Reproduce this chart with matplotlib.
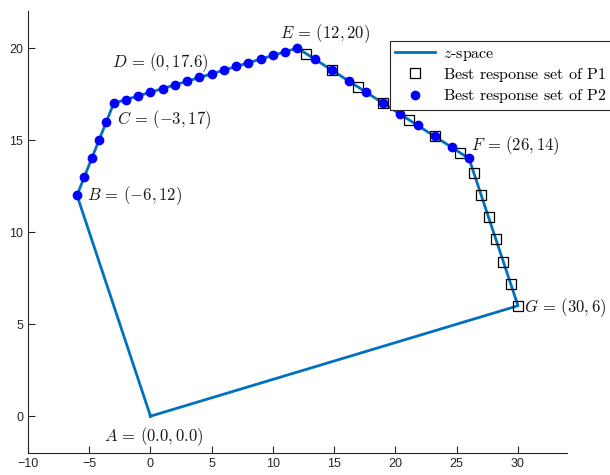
import matplotlib
matplotlib.use("Agg")
import matplotlib.pyplot as plt

plt.rcParams["mathtext.fontset"] = "cm"
plt.rcParams["font.family"] = ["Liberation Sans", "DejaVu Sans"]

# Vertices of the feasible z-space (closed polygon A-B-C-D-E-F-G-A)
vertex_names = ["A", "B", "C", "D", "E", "F", "G"]
vertex_x = [0, -6, -3, 0, 12, 26, 30]
vertex_y = [0, 12, 17, 17.6, 20, 14, 6]
vertex_text = [r"(0.0,0.0)", r"(-6,12)", r"(-3,17)", r"(0,17.6)",
               r"(12,20)", r"(26,14)", r"(30,6)"]

# Best response set of P1 (squares)
p1_x = [12.7, 14.8, 16.9, 19.0, 21.1, 23.2, 25.3,
        26.4, 27.0, 27.6, 28.2, 28.8, 29.4, 30.0]
p1_y = [19.7, 18.8, 17.9, 17.0, 16.1, 15.2, 14.3,
        13.2, 12.0, 10.8, 9.6, 8.4, 7.2, 6.0]

# Best response set of P2 (dots)
p2_x = [-6, -5.4, -4.8, -4.2, -3.6, -3,
        -2, -1, 0, 1, 2, 3, 4, 5, 6, 7, 8, 9, 10, 11, 12,
        13.4, 14.8, 16.2, 17.6, 19.0, 20.4, 21.8, 23.2, 24.6, 26.0]
p2_y = [12, 13, 14, 15, 16, 17,
        17.2, 17.4, 17.6, 17.8, 18.0, 18.2, 18.4, 18.6, 18.8, 19.0,
        19.2, 19.4, 19.6, 19.8, 20.0,
        19.4, 18.8, 18.2, 17.6, 17.0, 16.4, 15.8, 15.2, 14.6, 14.0]

x_ticks = [-10, -5, 0, 5, 10, 15, 20, 25, 30]
y_ticks = [0, 5, 10, 15, 20]

fig = plt.figure(figsize=(6.1, 4.75), dpi=100)
ax = fig.add_axes([0.0459, 0.0463, 0.8836, 0.9301])

poly_x = vertex_x + [vertex_x[0]]
poly_y = vertex_y + [vertex_y[0]]
ax.plot(poly_x, poly_y, color="#0072BD", lw=2.0, label=r"$z\text{-space}$",
        zorder=2)
ax.plot(p1_x, p1_y, ls="none", marker="s", ms=6.5, mfc="none", mec="black",
        mew=0.9, label=r"$\text{Best response set of P1}$", zorder=3)
ax.plot(p2_x, p2_y, ls="none", marker="o", ms=6, mfc="#0000FF", mec="#0000FF",
        label=r"$\text{Best response set of P2}$", zorder=4)

# Vertex annotations
label_pos = {
    "A": (0.3, -1.1, "center"),
    "B": (-5.2, 12.0, "left"),
    "C": (-2.7, 16.1, "left"),
    "D": (0.8, 19.2, "center"),
    "E": (14.25, 20.76, "center"),
    "F": (26.2, 14.7, "left"),
    "G": (30.5, 5.9, "left"),
}
for name, txt in zip(vertex_names, vertex_text):
    tx, ty, ha = label_pos[name]
    ax.text(tx, ty, rf"${name}\,=\,{txt}$", ha=ha, va="center", fontsize=12,
            color="#1a1a1a")

ax.set_xlim(-10, 34)
ax.set_ylim(-2, 22)
ax.set_xticks(x_ticks)
ax.set_yticks(y_ticks)
ax.tick_params(direction="in", length=5, width=0.8, colors="#262626",
               labelsize=9)
for side in ("top", "right"):
    ax.spines[side].set_visible(False)
for side in ("left", "bottom"):
    ax.spines[side].set_color("#262626")
    ax.spines[side].set_linewidth(0.8)

leg = ax.legend(loc="upper left", bbox_to_anchor=(390 / 610, 1 - 41 / 475),
                bbox_transform=fig.transFigure, fontsize=11.5, frameon=True,
                fancybox=False, framealpha=1, handlelength=2.5, borderpad=0.3,
                labelspacing=0.2, handletextpad=0.5, borderaxespad=0)
leg.set_zorder(10)
leg.get_frame().set_edgecolor("#262626")
leg.get_frame().set_linewidth(0.8)

fig.savefig("out.png", dpi=100)
